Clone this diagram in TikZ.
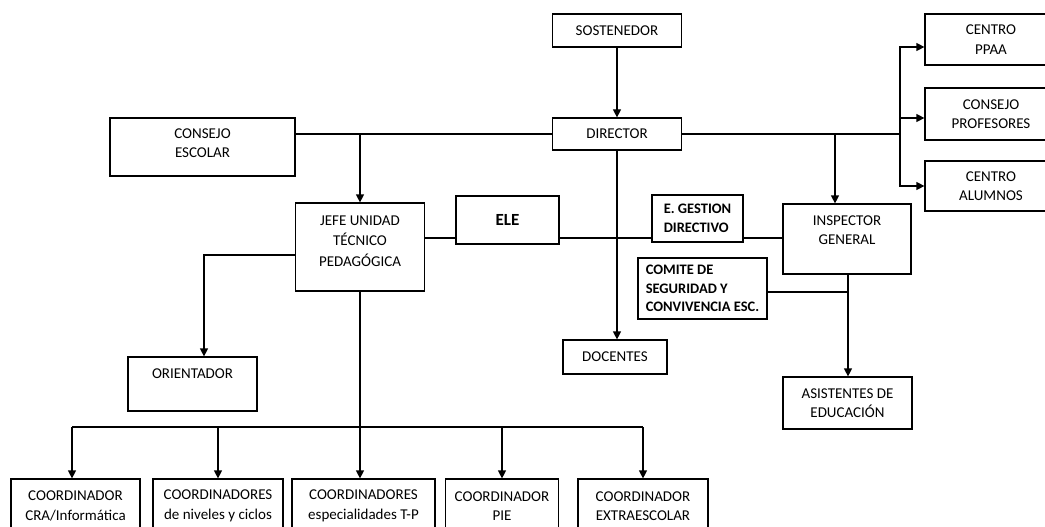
\documentclass[tikz,border=0pt]{standalone}
\usepackage{fontspec}
\setmainfont{Carlito}
\usetikzlibrary{arrows.meta}

\tikzset{
  orgbox/.style={draw,inner sep=0pt,align=center,font=\fontsize{15}{19.5}\selectfont},
  boldbox/.style={orgbox,align=left,font=\fontsize{14.5}{18.5}\selectfont\bfseries},
  arr/.style={-{Triangle[length=8pt,width=8pt]}},
  lift/.style={text depth=#1},
}

\begin{document}
\begin{tikzpicture}[x=1pt,y=-1pt,line width=1.2pt]
  \useasboundingbox (0,0) rectangle (1045,527);

% top level
  \node[orgbox,minimum width=129,minimum height=33] (sost) at (617,30.5) {SOSTENEDOR};
  \node[orgbox,minimum width=129,minimum height=32] (dir) at (617,134) {DIRECTOR};
  \node[orgbox,minimum width=185,minimum height=58,lift=8pt] (cesc) at (202.5,147) {CONSEJO\\ESCOLAR};

% right column
  \node[orgbox,minimum width=132,minimum height=51] (ppaa) at (991,39.5) {CENTRO\\PPAA};
  \node[orgbox,minimum width=132,minimum height=52] (cprof) at (991,114) {CONSEJO\\PROFESORES};
  \node[orgbox,minimum width=132,minimum height=50] (calum) at (991,186) {CENTRO\\ALUMNOS};

% middle level
  \node[orgbox,minimum width=129,minimum height=88,lift=12pt,font=\fontsize{15}{20.5}\selectfont] (jefe) at (360,247) {JEFE UNIDAD\\TÉCNICO\\PEDAGÓGICA};
  \node[orgbox,minimum width=103,minimum height=48,font=\fontsize{17}{19}\selectfont\bfseries] (ele) at (507.5,220) {ELE};
  \node[boldbox,minimum width=91,minimum height=47] (egd) at (697.5,218.5) {E. GESTION\\DIRECTIVO};
  \node[orgbox,minimum width=128,minimum height=70,lift=18pt] (insp) at (847,239) {INSPECTOR\\GENERAL};
  \node[boldbox,minimum width=129,minimum height=61] (com) at (702.5,288.5) {COMITE DE\\SEGURIDAD Y\\CONVIVENCIA ESC.};
  \node[orgbox,minimum width=104,minimum height=34] (doc) at (615,357) {DOCENTES};
  \node[orgbox,minimum width=129,minimum height=52] (asis) at (847.5,403) {ASISTENTES DE\\EDUCACIÓN};
  \node[orgbox,minimum width=129,minimum height=54,lift=20pt] (orient) at (192.5,384) {ORIENTADOR};

% coordinators
  \node[orgbox,minimum width=129,minimum height=54] (c1) at (75.5,506) {COORDINADOR\\CRA/Informática};
  \node[orgbox,minimum width=130,minimum height=54] (c2) at (218,506) {COORDINADORES\\de niveles y ciclos};
  \node[orgbox,minimum width=143,minimum height=54] (c3) at (363.5,506) {COORDINADORES\\especialidades T-P};
  \node[orgbox,minimum width=113,minimum height=54] (c4) at (502,506) {COORDINADOR\\PIE};
  \node[orgbox,minimum width=130,minimum height=54] (c5) at (643,506) {COORDINADOR\\EXTRAESCOLAR};

% connectors from the director
  \draw[arr] (sost) -- (dir);
  \draw (cesc.east |- dir.west) -- (dir.west);
  \draw[arr] (jefe.north |- dir.west) -- (jefe.north);
  \draw[arr] (dir.south) -- (dir.south |- doc.north);
  \coordinate (bR) at (900,134);
  \coordinate (jI) at (835,134);
  \draw (dir.east) -- (bR);
  \draw[arr] (bR) |- ([yshift=-7.5pt]ppaa.west);
  \draw[arr] (bR) |- ([yshift=-4pt]cprof.west);
  \draw[arr] (bR) |- (calum.west);
  \draw[arr] (jI) -- (jI |- insp.north);

% middle links
  \coordinate (hL) at (0,238);
  \draw (jefe.east |- hL) -- (ele.west |- hL);
  \draw (ele.east |- hL) -- (egd.west |- hL);
  \draw (egd.east |- hL) -- (insp.west |- hL);
  \coordinate (jA) at (848,292);
  \draw (com.east |- jA) -- (jA);
  \draw[arr] (insp.south -| jA) -- (asis.north -| jA);
  \coordinate (jO) at (204,255);
  \draw[arr] (jefe.west |- jO) -- (jO) -- (jO |- orient.north);

% coordinator bus
  \coordinate (bus) at (360,427);
  \draw[arr] (jefe.south) -- (jefe.south |- c3.north);
  \draw ([xshift=-3.5pt]c1.north |- bus) -- (c5.north |- bus);
  \draw[arr] ([xshift=-3.5pt]c1.north |- bus) -- ([xshift=-3.5pt]c1.north);
  \foreach \n in {c2,c4,c5}
    \draw[arr] (\n.north |- bus) -- (\n.north);
\end{tikzpicture}
\end{document}
